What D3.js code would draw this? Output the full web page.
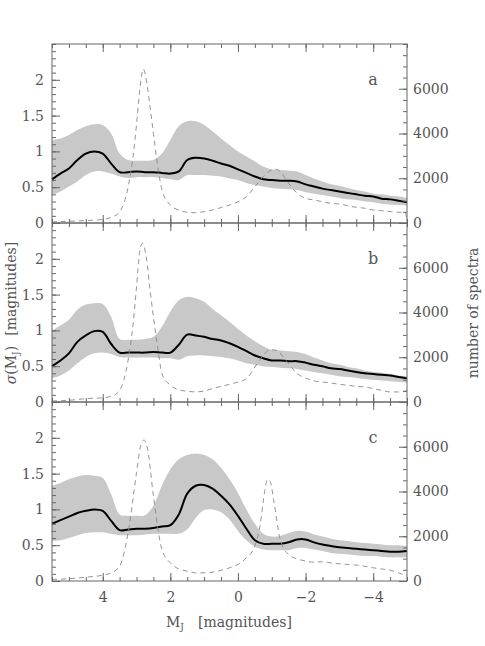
<!DOCTYPE html>
<html><head><meta charset="utf-8">
<script src="https://cdn.jsdelivr.net/npm/d3@7"></script>
<style>
html,body{margin:0;padding:0;background:#fff;}
svg text{font-family:"DejaVu Serif",serif;fill:#555;}
</style></head>
<body><svg id="c" width="485" height="646"></svg>
<script>
// magnitude grid for the sigma curves
const mag = [5.5,5.25,5.0,4.75,4.5,4.25,4.0,3.75,3.5,3.25,3.0,2.75,2.5,2.25,2.0,1.75,1.5,1.25,1.0,0.75,0.5,0.25,0,-0.25,-0.5,-0.75,-1.0,-1.25,-1.5,-1.75,-2.0,-2.25,-2.5,-2.75,-3.0,-3.25,-3.5,-3.75,-4.0,-4.25,-4.5,-4.75,-5.0];

// panel a
const medA = [0.61,0.69,0.76,0.88,0.97,1.00,0.97,0.83,0.71,0.71,0.72,0.71,0.71,0.70,0.69,0.72,0.88,0.91,0.90,0.87,0.83,0.80,0.75,0.70,0.65,0.61,0.60,0.59,0.59,0.58,0.54,0.51,0.48,0.46,0.44,0.42,0.40,0.38,0.37,0.34,0.33,0.31,0.29];
const hiA  = [1.16,1.18,1.23,1.30,1.35,1.38,1.37,1.25,0.97,0.88,0.87,0.87,0.88,0.97,1.16,1.35,1.42,1.42,1.37,1.28,1.18,1.09,1.00,0.93,0.86,0.79,0.75,0.74,0.73,0.72,0.67,0.62,0.58,0.54,0.52,0.49,0.46,0.44,0.41,0.40,0.38,0.37,0.35];
const loA  = [0.39,0.44,0.51,0.58,0.67,0.72,0.72,0.69,0.65,0.63,0.64,0.64,0.64,0.63,0.61,0.60,0.67,0.67,0.67,0.66,0.65,0.62,0.60,0.56,0.53,0.51,0.49,0.48,0.47,0.46,0.43,0.41,0.39,0.37,0.35,0.33,0.32,0.30,0.29,0.27,0.26,0.25,0.24];
const nMagA = [5.5,5.0,4.5,4.0,3.75,3.5,3.25,3.1,3.0,2.9,2.8,2.7,2.6,2.5,2.35,2.25,2.0,1.75,1.5,1.25,1.0,0.75,0.5,0.25,0,-0.25,-0.5,-0.75,-1.0,-1.15,-1.25,-1.5,-1.75,-2.0,-2.25,-2.5,-2.75,-3.0,-3.25,-3.5,-3.75,-4.0,-4.25,-4.5,-4.75,-4.95,-5.0];
const nA    = [50,80,110,160,250,500,1600,3000,4400,6000,6880,6300,5200,4000,2300,1500,800,580,480,460,510,580,690,800,950,1180,1620,2070,2370,2400,2300,1770,1330,1100,1030,950,880,850,770,700,660,580,550,510,480,450,100];

// panel b
const medB = [0.50,0.58,0.68,0.84,0.93,0.99,0.98,0.81,0.69,0.69,0.69,0.69,0.70,0.69,0.69,0.80,0.94,0.93,0.91,0.88,0.86,0.82,0.77,0.71,0.65,0.61,0.58,0.58,0.57,0.57,0.55,0.52,0.50,0.47,0.46,0.44,0.42,0.40,0.39,0.38,0.37,0.35,0.33];
const hiB  = [1.00,1.07,1.15,1.29,1.36,1.38,1.37,1.19,0.88,0.87,0.87,0.88,0.91,1.05,1.26,1.42,1.47,1.45,1.40,1.30,1.21,1.12,1.02,0.93,0.85,0.78,0.73,0.72,0.71,0.70,0.67,0.62,0.58,0.54,0.52,0.49,0.47,0.44,0.42,0.41,0.39,0.37,0.36];
const loB  = [0.33,0.37,0.44,0.54,0.63,0.68,0.69,0.67,0.63,0.62,0.62,0.62,0.62,0.61,0.61,0.59,0.64,0.65,0.65,0.64,0.63,0.61,0.58,0.54,0.52,0.50,0.49,0.48,0.47,0.46,0.44,0.42,0.40,0.38,0.36,0.35,0.34,0.32,0.31,0.30,0.29,0.28,0.27];
const nMagB = [5.5,5.0,4.5,4.0,3.75,3.5,3.25,3.1,3.0,2.9,2.82,2.7,2.6,2.5,2.35,2.25,2.0,1.75,1.5,1.25,1.0,0.75,0.5,0.25,0,-0.25,-0.5,-0.75,-0.95,-1.15,-1.34,-1.5,-1.75,-2.0,-2.25,-2.5,-2.75,-3.0,-3.25,-3.5,-3.75,-4.0,-4.25,-4.5,-4.75,-5.0];
const nB    = [45,75,150,190,250,520,1860,3500,5140,6800,7100,6330,5000,3800,2200,1270,750,550,480,450,490,600,700,790,890,1040,1560,2090,2340,2310,2010,1710,1270,1070,940,890,850,790,745,700,670,600,520,450,450,490];

// panel c
const medC = [0.80,0.85,0.90,0.95,0.98,1.00,0.98,0.84,0.71,0.72,0.73,0.73,0.74,0.76,0.78,0.93,1.22,1.33,1.34,1.29,1.19,1.07,0.91,0.73,0.57,0.52,0.52,0.52,0.54,0.58,0.58,0.54,0.51,0.49,0.47,0.46,0.45,0.44,0.43,0.42,0.41,0.41,0.42];
const hiC  = [1.33,1.37,1.42,1.46,1.48,1.47,1.44,1.21,0.93,0.91,0.91,0.92,1.05,1.33,1.56,1.70,1.76,1.78,1.76,1.70,1.58,1.42,1.23,1.00,0.80,0.66,0.62,0.63,0.67,0.70,0.69,0.65,0.62,0.59,0.57,0.56,0.54,0.53,0.52,0.51,0.50,0.50,0.49];
const loC  = [0.56,0.57,0.60,0.64,0.67,0.68,0.68,0.66,0.64,0.64,0.64,0.65,0.66,0.66,0.66,0.66,0.72,0.88,0.99,1.00,0.96,0.86,0.70,0.57,0.48,0.44,0.43,0.43,0.43,0.46,0.46,0.44,0.42,0.39,0.38,0.37,0.36,0.35,0.35,0.34,0.33,0.33,0.33];
const nMagC = [5.5,5.0,4.5,4.0,3.75,3.5,3.25,3.0,2.88,2.78,2.68,2.5,2.25,2.0,1.75,1.5,1.25,1.0,0.75,0.5,0.25,0,-0.25,-0.5,-0.65,-0.8,-0.87,-0.95,-1.07,-1.25,-1.5,-1.75,-2.0,-2.25,-2.5,-2.75,-3.0,-3.25,-3.5,-3.75,-4.0,-4.25,-4.5,-4.75,-5.0];
const nC    = [70,100,170,260,370,660,2150,4840,6030,6300,5950,3800,1420,810,540,440,365,365,395,480,590,740,1040,1560,2450,4090,4540,4460,3490,1850,1180,990,890,840,860,810,770,740,710,660,590,540,480,365,220];

const panelNames = ["a","b","c"];
const sigmaTicks = [0,0.5,1,1.5,2];
const sigmaTickLabels = ["0","0.5","1","1.5","2"];
const countTicks = [0,2000,4000,6000];
const countTickLabels = ["0","2000","4000","6000"];
const magTicks = [4,2,0,-2,-4];
const magTickLabels = ["4","2","0","\u22122","\u22124"];

const panels = [
  {name:panelNames[0], med:medA, hi:hiA, lo:loA, nm:nMagA, n:nA},
  {name:panelNames[1], med:medB, hi:hiB, lo:loB, nm:nMagB, n:nB},
  {name:panelNames[2], med:medC, hi:hiC, lo:loC, nm:nMagC, n:nC}
];

const svg = d3.select("#c");
const L = 52, R = 407, T0 = 44, PH = 179;
const x = d3.scaleLinear().domain([5.5,-5]).range([L,R]);
const minorMag = d3.range(5.5,-5.01,-0.5);
const minorSig = d3.range(0,2.51,0.1).map(v=>+v.toFixed(2));
const minorCnt = d3.range(0,8001,500);
const axisCol = "#666";
const smooth = d3.curveCatmullRom.alpha(0.5);

function styleAxis(g){
  g.select(".domain").remove();
  g.selectAll("line").attr("stroke",axisCol).attr("stroke-width",1);
  g.selectAll("text").attr("font-family","DejaVu Serif").attr("font-size",14).attr("fill","#555");
}

panels.forEach((p,i)=>{
  const top = T0 + i*PH, bot = top + PH;
  const y = d3.scaleLinear().domain([0,2.5]).range([bot,top]);
  const yN = d3.scaleLinear().domain([0,8000]).range([bot,top]);
  const g = svg.append("g");
  const pts = mag.map((m,k)=>({m, med:p.med[k], hi:p.hi[k], lo:p.lo[k]}));
  const npts = p.nm.map((m,k)=>({m, n:p.n[k]}));

  g.append("path").datum(pts)
    .attr("fill","#c8c8c8")
    .attr("d", d3.area().x(d=>x(d.m)).y0(d=>y(d.lo)).y1(d=>y(d.hi)).curve(smooth));
  g.append("path").datum(pts)
    .attr("fill","none").attr("stroke","#000").attr("stroke-width",2)
    .attr("d", d3.line().x(d=>x(d.m)).y(d=>y(d.med)).curve(smooth));
  g.append("path").datum(npts)
    .attr("fill","none").attr("stroke","#888").attr("stroke-width",0.9)
    .attr("stroke-dasharray","5,4")
    .attr("d", d3.line().x(d=>x(d.m)).y(d=>yN(d.n)).curve(d3.curveMonotoneX));

  // frame
  g.append("rect").attr("x",L).attr("y",top).attr("width",R-L).attr("height",PH)
    .attr("fill","none").attr("stroke",axisCol).attr("stroke-width",1);

  // left axis
  g.append("g").attr("transform",`translate(${L},0)`)
    .call(d3.axisLeft(y).tickValues(minorSig).tickSize(-4).tickFormat("")).call(styleAxis);
  g.append("g").attr("transform",`translate(${L},0)`)
    .call(d3.axisLeft(y).tickValues(sigmaTicks).tickSize(-8).tickPadding(8)
      .tickFormat((d,k)=>sigmaTickLabels[k])).call(styleAxis);
  // right axis
  g.append("g").attr("transform",`translate(${R},0)`)
    .call(d3.axisRight(yN).tickValues(minorCnt).tickSize(-4).tickFormat("")).call(styleAxis);
  g.append("g").attr("transform",`translate(${R},0)`)
    .call(d3.axisRight(yN).tickValues(countTicks).tickSize(-8).tickPadding(6)
      .tickFormat((d,k)=>countTickLabels[k])).call(styleAxis);
  // top axis
  g.append("g").attr("transform",`translate(0,${top})`)
    .call(d3.axisTop(x).tickValues(minorMag).tickSize(-4).tickFormat("")).call(styleAxis);
  g.append("g").attr("transform",`translate(0,${top})`)
    .call(d3.axisTop(x).tickValues(magTicks).tickSize(-8).tickFormat("")).call(styleAxis);
  // bottom axis
  g.append("g").attr("transform",`translate(0,${bot})`)
    .call(d3.axisBottom(x).tickValues(minorMag).tickSize(-4).tickFormat("")).call(styleAxis);
  g.append("g").attr("transform",`translate(0,${bot})`)
    .call(d3.axisBottom(x).tickValues(magTicks).tickSize(-8).tickPadding(11)
      .tickFormat((d,k)=> i===2 ? magTickLabels[k] : "")).call(styleAxis);

  g.append("text").attr("x",373).attr("y",top+41).attr("text-anchor","middle")
    .attr("font-size",16).text(p.name);
});

// x label
const xl = svg.append("text").attr("x",229).attr("y",627).attr("text-anchor","middle").attr("font-size",14);
xl.append("tspan").text("M");
xl.append("tspan").attr("font-size",9).attr("dy",3).text("J");
xl.append("tspan").attr("dy",-3).attr("dx",14).text("[magnitudes]");

// left y label
const yl = svg.append("text").attr("transform","translate(16,313) rotate(-90)")
  .attr("text-anchor","middle").attr("font-size",14);
yl.append("tspan").attr("font-style","italic").text("\u03c3");
yl.append("tspan").text("(M");
yl.append("tspan").attr("font-size",9).attr("dy",3).text("J");
yl.append("tspan").attr("dy",-3).text(")");
yl.append("tspan").attr("dx",10).text("[magnitudes]");

// right y label
svg.append("text").attr("transform","translate(478,313) rotate(-90)")
  .attr("text-anchor","middle").attr("font-size",14).text("number of spectra");
</script>
</body></html>
